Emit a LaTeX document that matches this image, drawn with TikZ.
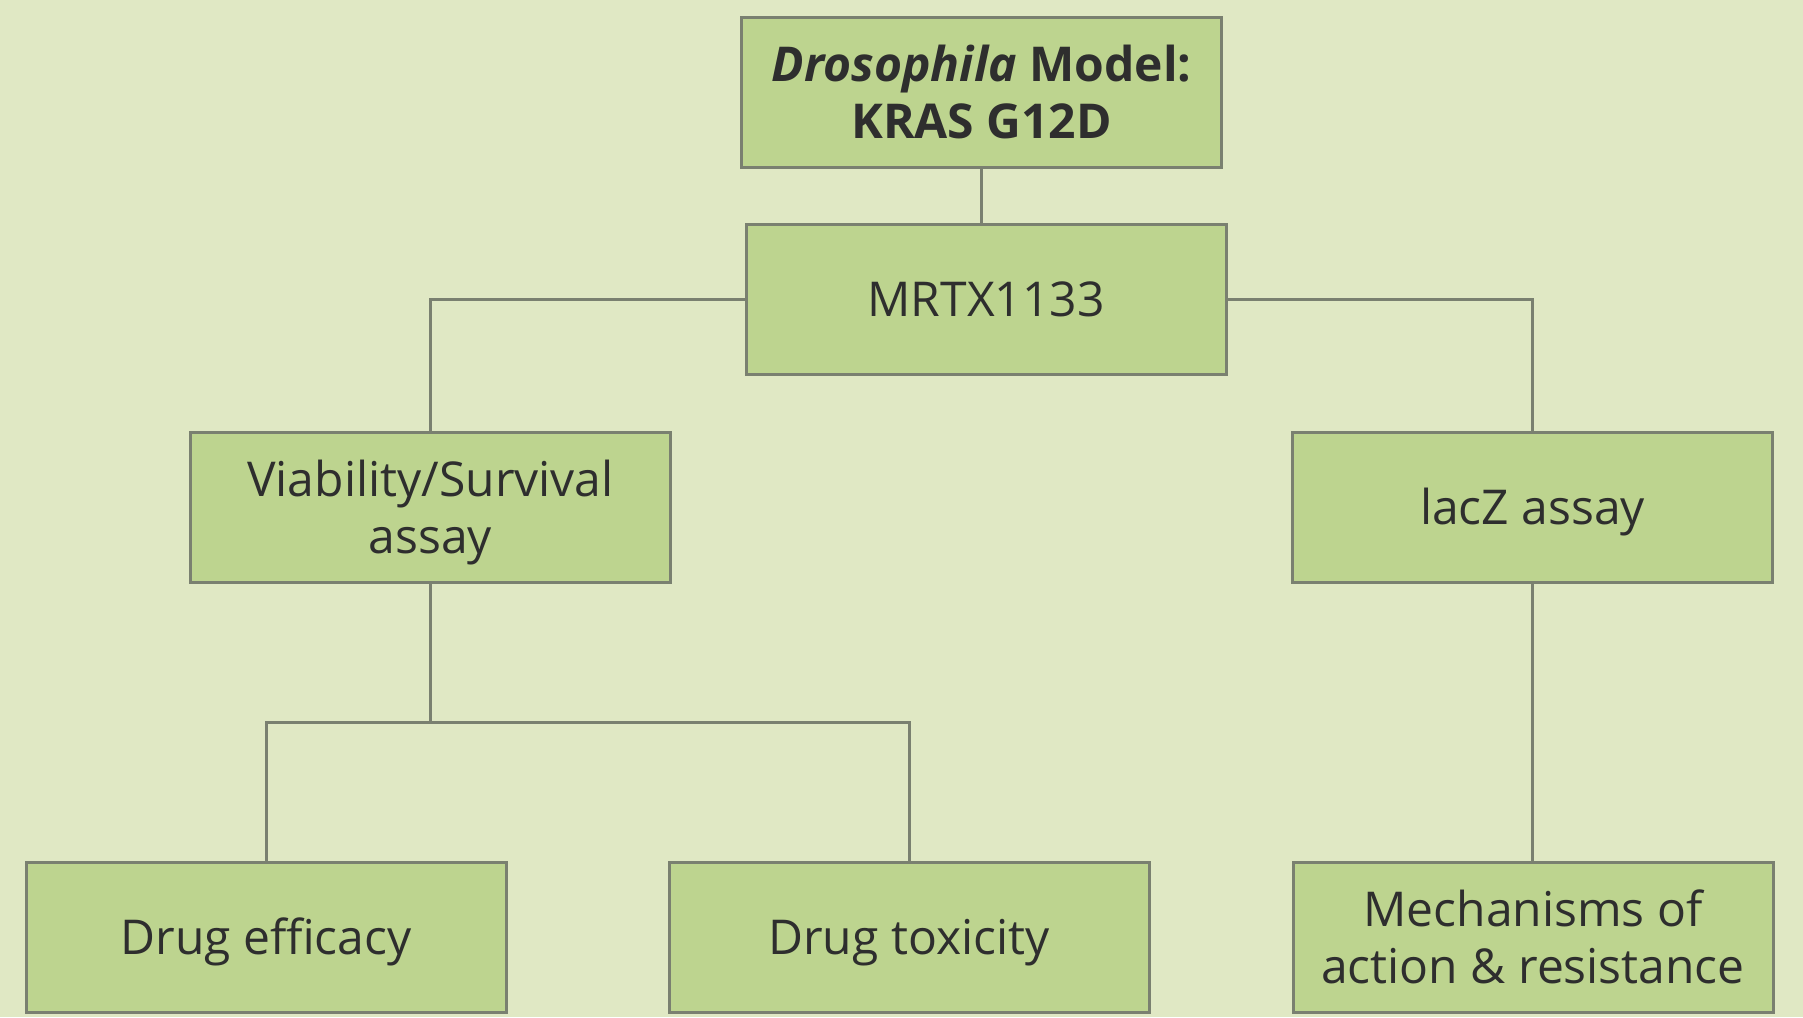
\documentclass[tikz,border=0pt]{standalone}
\usepackage{fontspec}
\setmainfont{Open Sans}
\usetikzlibrary{positioning}

\definecolor{bgcol}{RGB}{224,232,196}
\definecolor{boxcol}{RGB}{189,212,143}
\definecolor{linecol}{RGB}{122,128,112}
\definecolor{textcol}{RGB}{46,46,46}

% two centred lines, baseline on the first one
\newcommand{\twolines}[2]{\begin{tabular}[t]{@{}c@{}}#1\\#2\end{tabular}}

\begin{document}
\begin{tikzpicture}[x=0.5pt,y=-0.5pt]

\tikzset{stage/.style = {shape=rectangle,draw=linecol,fill=boxcol,line width=1.5pt,minimum width=240pt,minimum height=75pt,text=textcol,text height=17.1pt,text depth=0pt,font=\fontsize{24}{28.5}\selectfont}}
\tikzset{pair/.style = {text depth=28.5pt}}
\tikzset{link/.style = {draw=linecol,line width=1.5pt}}
% background
\fill[bgcol] (0,0) rectangle (1803,1017);
\useasboundingbox (0,0) rectangle (1803,1017);
% vertices
\node[stage, pair] (model) at (981.5,92.5) {\twolines{\textbf{\textit{Drosophila} Model:}}{\textbf{KRAS G12D}}};
\node[stage] (drug) at (986,299.5) {MRTX1133};
\node[stage, pair] (viab) at (430.5,507.5) {\twolines{Viability/Survival}{assay}};
\node[stage] (lacz) at (1532.5,507.5) {lacZ assay};
\node[stage] (eff) at (266,937.5) {Drug efficacy};
\node[stage] (tox) at (909,937.5) {Drug toxicity};
\node[stage, pair] (mech) at (1533,937.5) {\twolines{Mechanisms of}{action \& resistance}};
\coordinate (split) at (430.5,722);
%edges
\draw[link] (model.south) -- (model.south |- drug.north);
\draw[link] (drug.west) -| (viab.north);
\draw[link] (drug.east) -| (lacz.north);
\draw[link] (viab.south) -- (split);
\draw[link] (eff.north) |- (split) -| (tox.north);
\draw[link] (lacz.south) -- (lacz.south |- mech.north);
\end{tikzpicture}
\end{document}
